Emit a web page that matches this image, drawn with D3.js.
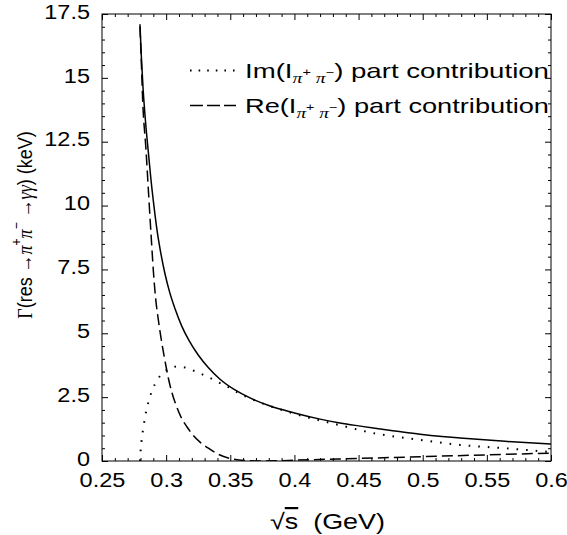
<!DOCTYPE html>
<html>
<head>
<meta charset="utf-8">
<script src="https://cdn.jsdelivr.net/npm/d3@7"></script>
<style>
  body { margin: 0; background: #fff; }
  text { font-family: "Liberation Sans", Arial, sans-serif; fill: #000; }
</style>
</head>
<body>
<div id="chart-container"></div>
<script>
// sqrt(s) in GeV, widths in keV
const totalX = [0.2796, 0.2806, 0.282, 0.2839, 0.2861, 0.2882, 0.2905, 0.293, 0.2958, 0.299, 0.3025, 0.307, 0.312, 0.318, 0.325, 0.333, 0.342, 0.353, 0.3654, 0.38, 0.4, 0.42, 0.4355, 0.45, 0.4628, 0.48, 0.4979, 0.515, 0.5291, 0.5642, 0.6];
const totalY = [17.1, 15.9, 14.6, 13.3, 12.1, 11.0, 9.98, 9.0, 8.15, 7.35, 6.65, 5.95, 5.3, 4.7, 4.15, 3.65, 3.2, 2.8, 2.47, 2.17, 1.88, 1.64, 1.49, 1.375, 1.28, 1.165, 1.05, 0.96, 0.9, 0.77, 0.66];

const imX = [0.2796, 0.28, 0.2808, 0.2822, 0.2843, 0.2869, 0.2895, 0.2926, 0.296, 0.2999, 0.3046, 0.3092, 0.3147, 0.3202, 0.3264, 0.3342, 0.342, 0.3498, 0.3576, 0.3654, 0.381, 0.4, 0.4355, 0.4628, 0.4979, 0.5291, 0.5642, 0.6];
const imY = [0, 0.31, 0.78, 1.29, 1.92, 2.43, 2.82, 3.13, 3.37, 3.54, 3.66, 3.7, 3.66, 3.56, 3.43, 3.25, 3.05, 2.86, 2.63, 2.45, 2.15, 1.85, 1.4, 1.08, 0.83, 0.63, 0.5, 0.35];

const reX = [0.2796, 0.2806, 0.2817, 0.2843, 0.2866, 0.2886, 0.2901, 0.2917, 0.2937, 0.296, 0.2987, 0.3017, 0.3046, 0.3077, 0.3116, 0.3163, 0.3209, 0.3264, 0.3326, 0.3404, 0.3498, 0.3615, 0.3732, 0.385, 0.4, 0.45, 0.5, 0.55, 0.6];
const reY = [17.0, 15.7, 14.13, 12.18, 10.22, 8.57, 7.4, 6.42, 5.6, 4.82, 4.03, 3.25, 2.66, 2.19, 1.72, 1.33, 1.02, 0.74, 0.51, 0.27, 0.1, 0.02, 0, 0.005, 0.03, 0.1, 0.17, 0.24, 0.31];

const xTicks = [0.25, 0.3, 0.35, 0.4, 0.45, 0.5, 0.55, 0.6];
const xTickLabels = ["0.25", "0.3", "0.35", "0.4", "0.45", "0.5", "0.55", "0.6"];
const yTicks = [0, 2.5, 5, 7.5, 10, 12.5, 15, 17.5];
const yTickLabels = ["0", "2.5", "5", "7.5", "10", "12.5", "15", "17.5"];

const width = 567, height = 535;
const marginTop = 14, marginRight = 16, marginBottom = 74, marginLeft = 102;
const stretch = 1.12; // the original text is a bit wider than tall

const x = d3.scaleLinear().domain([0.25, 0.6]).range([marginLeft, width - marginRight]);
const y = d3.scaleLinear().domain([0, 17.5]).range([height - marginBottom, marginTop]);

const svg = d3.select("#chart-container").append("svg")
  .attr("width", width).attr("height", height);

svg.append("defs").append("clipPath").attr("id", "plot")
  .append("rect")
  .attr("x", marginLeft).attr("y", marginTop)
  .attr("width", width - marginLeft - marginRight)
  .attr("height", height - marginTop - marginBottom);

// minor ticks
const xMinor = d3.range(25, 61).map(d => d / 100).filter(d => Math.round(d * 100) % 5 !== 0);
const yMinor = d3.range(0, 36).map(d => d / 2).filter(d => d % 2.5 !== 0);

function addAxis(axis, tx, ty) {
  const g = svg.append("g").attr("transform", `translate(${tx},${ty})`).call(axis);
  g.select(".domain").remove();
  g.selectAll("line").attr("stroke", "#000");
  return g;
}

const xb = x(0.25), yb = y(0);
const gx = addAxis(d3.axisBottom(x).tickValues(xTicks).tickSize(-6).tickPadding(11)
  .tickFormat((d, i) => xTickLabels[i]), 0, yb);
gx.selectAll("text").attr("font-size", 21).attr("transform", `scale(${stretch},1)`);
addAxis(d3.axisBottom(x).tickValues(xMinor).tickSize(-3).tickFormat(""), 0, yb);
addAxis(d3.axisTop(x).tickValues(xTicks).tickSize(-6).tickFormat(""), 0, marginTop);
addAxis(d3.axisTop(x).tickValues(xMinor).tickSize(-3).tickFormat(""), 0, marginTop);

const gy = addAxis(d3.axisLeft(y).tickValues(yTicks).tickSize(-6)
  .tickFormat((d, i) => yTickLabels[i]), xb, 0);
gy.selectAll("text").attr("font-size", 21).attr("x", -12 / stretch).attr("dy", "0.2em")
  .attr("transform", `scale(${stretch},1)`);
addAxis(d3.axisLeft(y).tickValues(yMinor).tickSize(-3).tickFormat(""), xb, 0);
addAxis(d3.axisRight(y).tickValues(yTicks).tickSize(-6).tickFormat(""), width - marginRight, 0);
addAxis(d3.axisRight(y).tickValues(yMinor).tickSize(-3).tickFormat(""), width - marginRight, 0);

// frame
svg.append("rect")
  .attr("x", marginLeft).attr("y", marginTop)
  .attr("width", width - marginLeft - marginRight)
  .attr("height", height - marginTop - marginBottom)
  .attr("fill", "none").attr("stroke", "#000").attr("stroke-width", 1);

// curves
const line = d3.line().x(d => x(d[0])).y(d => y(d[1])).curve(d3.curveMonotoneX);
const series = [
  { xs: totalX, ys: totalY, dash: null, w: 1.5 },
  { xs: imX, ys: imY, dash: "1.6,8", w: 2 },
  { xs: reX, ys: reY, dash: "11,5", w: 1.5 }
];
svg.append("g").attr("clip-path", "url(#plot)")
  .selectAll("path").data(series).enter().append("path")
  .attr("d", s => line(s.xs.map((v, i) => [v, s.ys[i]])))
  .attr("fill", "none").attr("stroke", "#000")
  .attr("stroke-width", s => s.w)
  .attr("stroke-dasharray", s => s.dash);

// legend
const legend = svg.append("g");
const rows = [
  { yy: 70.5, dash: "1.6,7", w: 2, name: "Im" },
  { yy: 105.5, dash: "13,4", w: 1.5, name: "Re" }
];
rows.forEach(r => {
  legend.append("line").attr("x1", 190).attr("x2", 236).attr("y1", r.yy).attr("y2", r.yy)
    .attr("stroke", "#000").attr("stroke-width", r.w).attr("stroke-dasharray", r.dash);
  const t = legend.append("text").attr("x", 245).attr("y", r.yy + 7.5).attr("font-size", 21)
    .attr("textLength", 304).attr("lengthAdjust", "spacingAndGlyphs");
  t.append("tspan").text(r.name + "(I");
  t.append("tspan").attr("dy", 5).attr("font-size", 15)
    .attr("font-family", "Liberation Serif").attr("font-style", "italic").text("π");
  t.append("tspan").attr("dy", -7).attr("font-size", 11).text("+");
  t.append("tspan").attr("dy", 7).attr("font-size", 15)
    .attr("font-family", "Liberation Serif").attr("font-style", "italic").text(" π");
  t.append("tspan").attr("dy", -7).attr("font-size", 11).text("−");
  t.append("tspan").attr("dy", 2).text(") part contribution");
});

// y label
const yl = svg.append("text")
  .attr("transform", "translate(32,225) rotate(-90) scale(1,1.15)")
  .attr("text-anchor", "middle").attr("font-size", 18);
yl.append("tspan").attr("font-family", "Liberation Serif").text("Γ");
yl.append("tspan").text("(res ");
yl.append("tspan").text("→");
yl.append("tspan").attr("font-family", "Liberation Serif").attr("font-style", "italic").text("π");
yl.append("tspan").attr("dy", -10).attr("font-size", 12).text("+");
yl.append("tspan").attr("dy", 10).attr("font-family", "Liberation Serif").attr("font-style", "italic").text("π");
yl.append("tspan").attr("dy", -10).attr("font-size", 12).text("−");
yl.append("tspan").attr("dy", 10).text(" →");
yl.append("tspan").attr("font-family", "Liberation Serif").attr("font-style", "italic").text("γγ");
yl.append("tspan").text(") (keV)");

// x label
const xl = svg.append("text")
  .attr("x", 270).attr("y", 529)
  .attr("font-size", 22).attr("textLength", 115).attr("lengthAdjust", "spacingAndGlyphs");
xl.append("tspan").text("√");
xl.append("tspan").style("text-decoration", "overline").text("s");
xl.append("tspan").text("\u00a0\u00a0(GeV)");
</script>
</body>
</html>
